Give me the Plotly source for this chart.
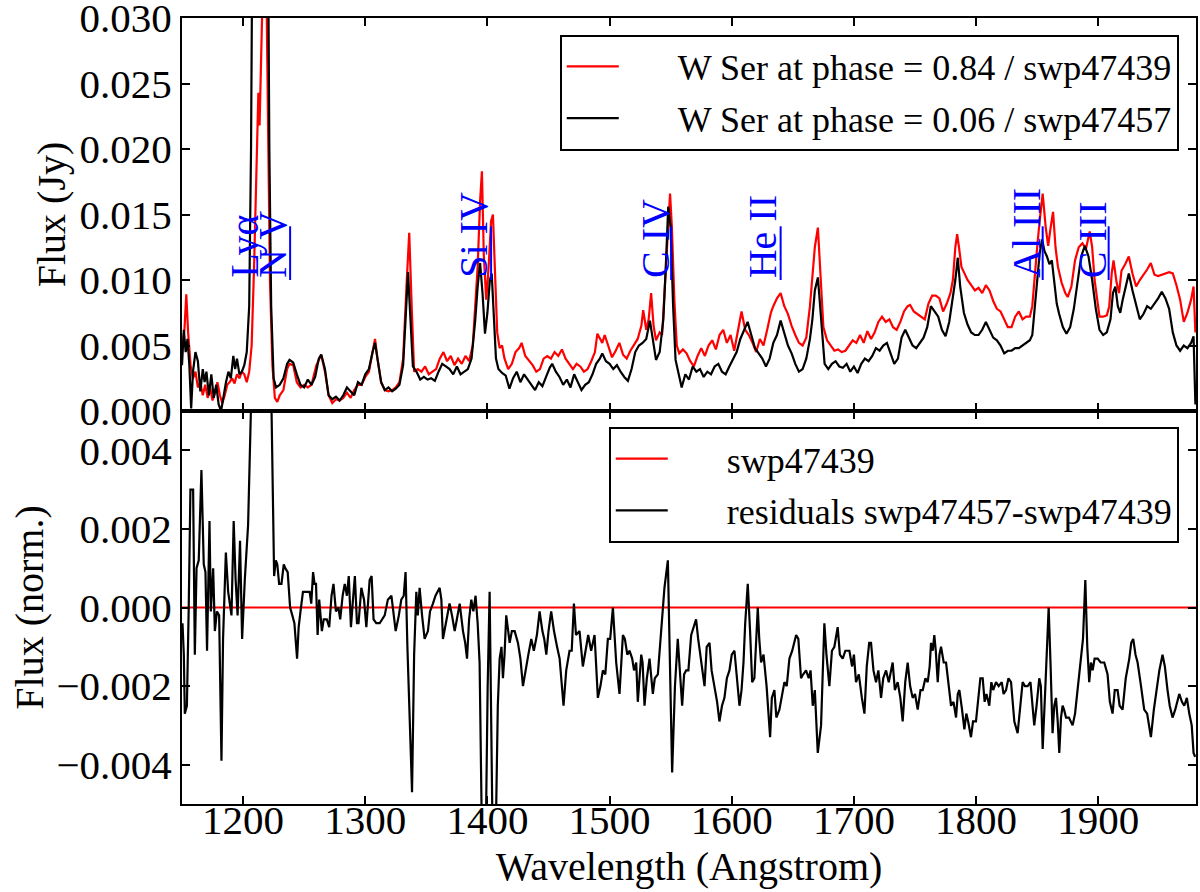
import plotly.graph_objects as go
from plotly.subplots import make_subplots

# ---------------- data ----------------
# W Ser at phase 0.84 / swp47439  (top panel, red)
wl_084 = [1150, 1152, 1153.5, 1155, 1157, 1159, 1161, 1163, 1165, 1167, 1169, 1171, 1173, 1175, 1177, 1179,
          1181, 1183, 1185, 1187, 1189, 1191, 1193, 1195, 1197, 1199, 1201, 1203, 1205, 1207, 1209, 1211,
          1212.5, 1213.5, 1215, 1217, 1219, 1220.5, 1222, 1224, 1226, 1228, 1230, 1233, 1236, 1238, 1241,
          1244, 1247, 1250, 1253, 1256, 1260, 1264, 1267, 1270, 1273, 1276, 1279, 1282, 1285, 1288, 1291,
          1294, 1297, 1300, 1303, 1306, 1308, 1310, 1313, 1316, 1319, 1322, 1325, 1328, 1331, 1334, 1336,
          1338, 1340, 1343, 1346, 1349, 1352, 1355, 1358, 1361, 1364, 1367, 1370, 1373, 1376, 1379, 1382,
          1385, 1388, 1390, 1392, 1394, 1395.5, 1397, 1399, 1401, 1403, 1404.5, 1406, 1408, 1410, 1412,
          1414, 1417, 1420, 1423, 1426, 1428, 1431, 1434, 1437, 1440, 1443, 1446, 1449, 1452, 1455, 1458,
          1461, 1464, 1467, 1470, 1473, 1476, 1479, 1482, 1485, 1488, 1490, 1492, 1494, 1496, 1499, 1502,
          1505, 1508, 1511, 1514, 1517, 1520, 1523, 1526, 1527.5, 1530, 1532, 1534, 1536, 1538, 1541, 1543,
          1545, 1547, 1549.5, 1551, 1553, 1555, 1557, 1560, 1563, 1566, 1569, 1572, 1575, 1578, 1581, 1584,
          1587, 1590, 1593, 1596, 1599, 1602, 1605, 1608, 1611, 1614, 1617, 1620, 1623, 1626, 1629, 1632,
          1634, 1637, 1640, 1643, 1646, 1649, 1652, 1655, 1658, 1661, 1664, 1666, 1668, 1670.5, 1673, 1675,
          1678, 1681, 1684, 1687, 1690, 1693, 1696, 1699, 1702, 1705, 1708, 1711, 1714, 1717, 1720, 1723,
          1726, 1729, 1732, 1735, 1738, 1741, 1744, 1746, 1749, 1752, 1755, 1758, 1761, 1764, 1767, 1770,
          1773, 1776, 1779, 1781, 1783, 1784.5, 1786, 1788, 1790, 1793, 1796, 1799, 1802, 1805, 1808, 1811,
          1814, 1817, 1820, 1823, 1826, 1829, 1832, 1835, 1838, 1841, 1844, 1846, 1848, 1850, 1852, 1854.5,
          1857, 1859, 1861, 1863, 1865, 1867, 1870, 1873, 1875, 1878, 1881, 1884, 1887, 1890, 1893, 1895,
          1897, 1899, 1901, 1904, 1907, 1909, 1911, 1912.5, 1915, 1917, 1919, 1922, 1925, 1928, 1931, 1934,
          1937, 1940, 1943, 1946, 1949, 1952, 1955, 1958, 1961, 1964, 1967, 1970, 1973, 1976, 1978, 1979.5]
flux_084 = [0.0048, 0.0062, 0.0089, 0.0060, 0.0035, 0.0025, 0.0030, 0.0018, 0.0022, 0.0012, 0.0020, 0.0010,
            0.0018, 0.0008, 0.0014, 0.0022, 0.0012, 0.0006, 0.0012, 0.0020, 0.0022, 0.0025, 0.0021, 0.0028,
            0.0025, 0.0030, 0.0028, 0.0022, 0.0030, 0.0050, 0.0110, 0.0200, 0.0243, 0.0218, 0.0330, 0.0360,
            0.0330, 0.0200, 0.0100, 0.0035, 0.0010, 0.0007, 0.0012, 0.0016, 0.0032, 0.0036, 0.0035, 0.0022,
            0.0018, 0.0020, 0.0018, 0.0020, 0.0035, 0.0043, 0.0030, 0.0012, 0.0006, 0.0009, 0.0008, 0.0010,
            0.0014, 0.0010, 0.0016, 0.0020, 0.0020, 0.0026, 0.0030, 0.0045, 0.0055, 0.0040, 0.0022, 0.0016,
            0.0015, 0.0016, 0.0018, 0.0022, 0.0040, 0.0100, 0.0136, 0.0080, 0.0030, 0.0032, 0.0030, 0.0034,
            0.0028, 0.0030, 0.0032, 0.0040, 0.0045, 0.0038, 0.0042, 0.0035, 0.0040, 0.0036, 0.0042, 0.0038,
            0.0050, 0.0080, 0.0110, 0.0160, 0.0183, 0.0120, 0.0085, 0.0110, 0.0145, 0.0150, 0.0110, 0.0060,
            0.0048, 0.0050, 0.0040, 0.0032, 0.0036, 0.0045, 0.0048, 0.0052, 0.0042, 0.0038, 0.0035, 0.0030,
            0.0032, 0.0040, 0.0042, 0.0040, 0.0045, 0.0042, 0.0047, 0.0040, 0.0036, 0.0032, 0.0036, 0.0034,
            0.0030, 0.0032, 0.0038, 0.0045, 0.0059, 0.0056, 0.0052, 0.0058, 0.0050, 0.0041, 0.0046, 0.0052,
            0.0043, 0.0040, 0.0046, 0.0050, 0.0055, 0.0065, 0.0077, 0.0062, 0.0070, 0.0090, 0.0065, 0.0054,
            0.0060, 0.0058, 0.0090, 0.0130, 0.0166, 0.0140, 0.0085, 0.0050, 0.0044, 0.0047, 0.0044, 0.0038,
            0.0034, 0.0042, 0.0048, 0.0042, 0.0050, 0.0054, 0.0047, 0.0058, 0.0062, 0.0052, 0.0058, 0.0046,
            0.0062, 0.0076, 0.0062, 0.0058, 0.0052, 0.0045, 0.0055, 0.0050, 0.0062, 0.0075, 0.0080, 0.0086,
            0.0090, 0.0080, 0.0074, 0.0065, 0.0058, 0.0052, 0.0050, 0.0056, 0.0080, 0.0100, 0.0125, 0.0140,
            0.0095, 0.0064, 0.0054, 0.0050, 0.0046, 0.0047, 0.0045, 0.0046, 0.0050, 0.0054, 0.0052, 0.0058,
            0.0052, 0.0061, 0.0055, 0.0060, 0.0068, 0.0072, 0.0068, 0.0070, 0.0064, 0.0062, 0.0068, 0.0076,
            0.0080, 0.0081, 0.0076, 0.0074, 0.0072, 0.0070, 0.0082, 0.0088, 0.0088, 0.0086, 0.0076, 0.0082,
            0.0090, 0.0100, 0.0125, 0.0135, 0.0125, 0.0110, 0.0106, 0.0100, 0.0096, 0.0092, 0.0094, 0.0090,
            0.0096, 0.0092, 0.0084, 0.0078, 0.0076, 0.0070, 0.0064, 0.0064, 0.0072, 0.0076, 0.0070, 0.0072,
            0.0072, 0.0080, 0.0105, 0.0125, 0.0145, 0.0166, 0.0140, 0.0126, 0.0140, 0.0152, 0.0125, 0.0110,
            0.0098, 0.0090, 0.0087, 0.0095, 0.0115, 0.0125, 0.0128, 0.0124, 0.0137, 0.0125, 0.0100, 0.0085,
            0.0072, 0.0072, 0.0073, 0.0080, 0.0105, 0.0115, 0.0098, 0.0090, 0.0107, 0.0112, 0.0118, 0.0105,
            0.0095, 0.0100, 0.0104, 0.0108, 0.0113, 0.0104, 0.0103, 0.0104, 0.0105, 0.0106, 0.0105, 0.0096,
            0.0085, 0.0068, 0.0075, 0.0085, 0.0095, 0.0060]

# W Ser at phase 0.06 / swp47457  (top panel, black)
wl_006 = [1150, 1151.5, 1153, 1154.5, 1156, 1157.5, 1159, 1161, 1163, 1165, 1167, 1168.5, 1170, 1172, 1174,
          1176, 1178, 1180, 1182, 1184, 1186, 1188, 1190, 1192, 1193.5, 1195, 1197, 1199, 1201, 1203, 1205,
          1206.5, 1207.5, 1220.5, 1221.5, 1223, 1225, 1227, 1230, 1233, 1236, 1238, 1241, 1244, 1247, 1250,
          1253, 1256, 1259, 1262, 1264, 1267, 1270, 1273, 1276, 1279, 1282, 1285, 1288, 1291, 1294, 1297,
          1300, 1303, 1306, 1308, 1310, 1313, 1316, 1319, 1322, 1325, 1328, 1331, 1333, 1335, 1337, 1339,
          1342, 1345, 1348, 1351, 1354, 1357, 1360, 1363, 1366, 1369, 1372, 1375, 1378, 1381, 1384, 1387,
          1390, 1392, 1394, 1396, 1398, 1400, 1402, 1403.5, 1405, 1407, 1409, 1412, 1415, 1418, 1421, 1424,
          1427, 1430, 1433, 1436, 1439, 1442, 1445, 1448, 1451, 1453, 1456, 1459, 1462, 1465, 1468, 1471,
          1474, 1477, 1480, 1483, 1486, 1489, 1492, 1494, 1497, 1500, 1503, 1506, 1509, 1512, 1515, 1518,
          1521, 1524, 1527, 1530, 1533, 1535, 1538, 1541, 1544, 1546, 1548, 1550, 1552, 1554, 1557, 1559,
          1562, 1565, 1568, 1571, 1574, 1577, 1580, 1583, 1586, 1589, 1592, 1595, 1598, 1601, 1604, 1607,
          1610, 1613, 1616, 1619, 1622, 1625, 1628, 1631, 1634, 1637, 1640, 1643, 1646, 1649, 1652, 1655,
          1658, 1661, 1664, 1666, 1668, 1670.5, 1673, 1676, 1679, 1682, 1685, 1688, 1691, 1694, 1697, 1700,
          1703, 1706, 1709, 1712, 1715, 1718, 1721, 1724, 1727, 1730, 1733, 1736, 1739, 1742, 1745, 1748,
          1751, 1754, 1757, 1760, 1763, 1766, 1769, 1772, 1775, 1778, 1781, 1783, 1785, 1787, 1790, 1793,
          1796, 1799, 1802, 1805, 1808, 1811, 1814, 1817, 1820, 1823, 1826, 1829, 1832, 1835, 1838, 1841,
          1844, 1846, 1848, 1850, 1852, 1854, 1856, 1858, 1860, 1862, 1864, 1866, 1868, 1871, 1874, 1877,
          1880, 1883, 1886, 1889, 1892, 1895, 1898, 1901, 1904, 1907, 1910, 1912, 1914, 1916, 1918, 1920,
          1923, 1925, 1928, 1931, 1934, 1937, 1940, 1943, 1946, 1949, 1952, 1955, 1958, 1961, 1964, 1967,
          1970, 1973, 1976, 1978, 1979.5]
flux_006 = [0.0035, 0.0062, 0.0045, 0.0055, 0.0035, 0.0002, 0.0030, 0.0045, 0.0038, 0.0015, 0.0032, 0.0022,
            0.0030, 0.0012, 0.0028, 0.0010, 0.0020, 0.0005, 0.0000, 0.0012, 0.0022, 0.0030, 0.0025, 0.0042,
            0.0032, 0.0040, 0.0028, 0.0030, 0.0035, 0.0045, 0.0080, 0.0200, 0.0350, 0.0350, 0.0200, 0.0080,
            0.0025, 0.0018, 0.0020, 0.0025, 0.0036, 0.0039, 0.0037, 0.0028, 0.0020, 0.0018, 0.0024, 0.0020,
            0.0026, 0.0040, 0.0043, 0.0032, 0.0012, 0.0009, 0.0011, 0.0008, 0.0012, 0.0018, 0.0015, 0.0012,
            0.0022, 0.0020, 0.0028, 0.0032, 0.0045, 0.0052, 0.0040, 0.0022, 0.0016, 0.0018, 0.0015, 0.0017,
            0.0020, 0.0035, 0.0070, 0.0106, 0.0070, 0.0034, 0.0030, 0.0024, 0.0026, 0.0024, 0.0025, 0.0023,
            0.0030, 0.0036, 0.0034, 0.0032, 0.0028, 0.0034, 0.0028, 0.0030, 0.0032, 0.0040, 0.0069, 0.0095,
            0.0113, 0.0090, 0.0059, 0.0075, 0.0100, 0.0105, 0.0080, 0.0040, 0.0032, 0.0029, 0.0027, 0.0017,
            0.0025, 0.0030, 0.0022, 0.0028, 0.0024, 0.0020, 0.0016, 0.0022, 0.0019, 0.0026, 0.0033, 0.0036,
            0.0030, 0.0026, 0.0020, 0.0024, 0.0018, 0.0028, 0.0022, 0.0016, 0.0020, 0.0022, 0.0028, 0.0036,
            0.0040, 0.0044, 0.0038, 0.0036, 0.0032, 0.0035, 0.0030, 0.0026, 0.0023, 0.0032, 0.0045, 0.0050,
            0.0052, 0.0055, 0.0069, 0.0058, 0.0039, 0.0045, 0.0070, 0.0110, 0.0156, 0.0140, 0.0080, 0.0039,
            0.0025, 0.0018, 0.0028, 0.0024, 0.0034, 0.0030, 0.0032, 0.0026, 0.0030, 0.0028, 0.0034, 0.0036,
            0.0030, 0.0028, 0.0034, 0.0040, 0.0045, 0.0055, 0.0062, 0.0068, 0.0058, 0.0048, 0.0044, 0.0040,
            0.0034, 0.0040, 0.0052, 0.0058, 0.0069, 0.0060, 0.0050, 0.0044, 0.0036, 0.0030, 0.0032, 0.0040,
            0.0055, 0.0070, 0.0092, 0.0102, 0.0075, 0.0036, 0.0032, 0.0036, 0.0038, 0.0034, 0.0033, 0.0036,
            0.0030, 0.0034, 0.0029, 0.0036, 0.0040, 0.0038, 0.0042, 0.0048, 0.0046, 0.0050, 0.0052, 0.0044,
            0.0036, 0.0040, 0.0056, 0.0062, 0.0056, 0.0050, 0.0048, 0.0052, 0.0056, 0.0064, 0.0080, 0.0076,
            0.0072, 0.0062, 0.0057, 0.0068, 0.0087, 0.0100, 0.0117, 0.0095, 0.0075, 0.0066, 0.0060, 0.0058,
            0.0058, 0.0062, 0.0068, 0.0062, 0.0056, 0.0054, 0.0050, 0.0044, 0.0046, 0.0046, 0.0048, 0.0048,
            0.0050, 0.0052, 0.0054, 0.0058, 0.0080, 0.0103, 0.0120, 0.0131, 0.0122, 0.0118, 0.0112, 0.0115,
            0.0100, 0.0082, 0.0074, 0.0064, 0.0059, 0.0064, 0.0078, 0.0100, 0.0118, 0.0126, 0.0118, 0.0100,
            0.0078, 0.0062, 0.0058, 0.0060, 0.0070, 0.0090, 0.0095, 0.0080, 0.0075, 0.0085, 0.0098, 0.0105,
            0.0092, 0.0080, 0.0070, 0.0074, 0.0080, 0.0078, 0.0082, 0.0086, 0.0091, 0.0086, 0.0078, 0.0060,
            0.0050, 0.0046, 0.0050, 0.0048, 0.0052, 0.0057, 0.0005]

# residuals swp47457-swp47439 (bottom panel, black)
wl_res = [1150.4, 1151.5, 1152.3, 1154.0, 1155.5, 1156.9, 1159.1, 1160.5, 1161.9, 1163.7, 1165.9, 1167.8,
          1169.2, 1170.5, 1172.5, 1173.6, 1175.5, 1176.9, 1178.6, 1180.4, 1182.3, 1183.6, 1185.9, 1187.8,
          1190.5, 1192.3, 1193.9, 1195.5, 1197.5, 1199.2, 1201.4, 1204.1, 1206.0, 1208.0, 1215.0, 1222.0,
          1223.2, 1225.4, 1226.8, 1228.0, 1229.5, 1231.4, 1233.3, 1234.5, 1236.5, 1238.5, 1240.3, 1242.0,
          1244.2, 1245.5, 1247.0, 1249.0, 1252.0, 1254.5, 1255.8, 1257.3, 1258.5, 1259.7, 1261.0, 1262.3,
          1264.5, 1266.0, 1268.5, 1270.5, 1272.4, 1274.0, 1276.0, 1278.0, 1279.5, 1281.5, 1283.2, 1285.0,
          1286.5, 1288.3, 1289.7, 1291.5, 1293.2, 1294.5, 1296.8, 1299.0, 1300.9, 1303.6, 1305.2, 1306.8,
          1309.0, 1311.8, 1315.9, 1318.5, 1321.4, 1324.9, 1327.5, 1329.5, 1331.5, 1333.0, 1334.5, 1338.3,
          1340.0, 1341.8, 1343.0, 1344.5, 1346.5, 1348.6, 1351.3, 1353.0, 1355.4, 1357.5, 1360.9, 1362.3,
          1363.6, 1366.3, 1369.0, 1371.0, 1373.2, 1375.0, 1377.3, 1380.0, 1381.8, 1383.3, 1385.0, 1386.8,
          1388.5, 1390.3, 1392.0, 1393.6, 1395.8, 1398.5, 1400.2, 1401.8, 1403.0, 1404.5, 1406.7, 1408.5,
          1410.0, 1411.5, 1412.7, 1414.0, 1415.4, 1418.2, 1420.0, 1422.3, 1425.0, 1427.0, 1429.1, 1431.0,
          1433.5, 1435.9, 1438.0, 1440.5, 1442.7, 1445.0, 1446.5, 1448.2, 1450.0, 1452.2, 1454.5, 1457.0,
          1459.1, 1462.3, 1464.5, 1467.2, 1469.0, 1470.8, 1472.5, 1475.4, 1478.1, 1480.9, 1482.5, 1484.9,
          1487.7, 1490.4, 1492.5, 1494.5, 1496.5, 1498.6, 1500.5, 1502.7, 1505.4, 1508.1, 1510.9, 1512.5,
          1514.5, 1516.3, 1518.5, 1520.0, 1521.8, 1523.1, 1525.9, 1527.0, 1528.6, 1530.5, 1532.7, 1535.4,
          1537.0, 1539.5, 1542.2, 1544.9, 1547.7, 1551.2, 1553.5, 1555.8, 1559.4, 1561.0, 1562.7, 1564.5,
          1566.8, 1568.5, 1570.8, 1572.5, 1574.9, 1577.7, 1579.5, 1581.8, 1583.5, 1585.8, 1588.0, 1589.9,
          1592.0, 1594.0, 1596.0, 1598.1, 1600.0, 1602.2, 1604.5, 1606.3, 1608.0, 1609.6, 1611.0, 1613.1,
          1615.0, 1616.7, 1618.5, 1619.5, 1621.3, 1622.5, 1624.0, 1626.0, 1628.5, 1631.4, 1632.8, 1634.9,
          1636.5, 1639.0, 1641.0, 1643.1, 1645.0, 1647.2, 1649.5, 1652.7, 1654.5, 1656.7, 1658.5, 1660.8,
          1663.0, 1664.5, 1666.3, 1668.0, 1670.4, 1673.1, 1675.8, 1677.5, 1679.9, 1682.0, 1684.0, 1686.7,
          1688.5, 1690.8, 1693.0, 1696.3, 1698.5, 1700.0, 1701.7, 1704.0, 1706.5, 1708.6, 1710.5, 1712.5,
          1714.0, 1716.0, 1718.1, 1720.0, 1722.2, 1724.0, 1726.3, 1728.5, 1731.7, 1733.5, 1735.8, 1738.0,
          1739.9, 1742.0, 1744.0, 1746.0, 1748.1, 1750.0, 1752.2, 1754.5, 1756.3, 1758.5, 1760.4, 1762.0,
          1763.1, 1764.5, 1765.8, 1767.0, 1768.6, 1770.0, 1771.3, 1773.5, 1775.4, 1777.5, 1779.5, 1781.5,
          1783.6, 1785.0, 1786.3, 1788.5, 1790.4, 1792.0, 1793.5, 1795.8, 1797.5, 1799.9, 1802.0, 1803.5,
          1805.4, 1807.0, 1808.5, 1810.8, 1812.5, 1814.0, 1816.3, 1818.5, 1821.0, 1822.5, 1824.5, 1826.5,
          1828.6, 1831.3, 1834.0, 1836.0, 1838.1, 1840.0, 1842.2, 1844.5, 1847.6, 1849.5, 1851.7, 1853.0,
          1854.5, 1857.0, 1859.4, 1861.0, 1862.6, 1864.0, 1865.4, 1866.8, 1868.1, 1869.5, 1870.8, 1872.0,
          1873.6, 1876.0, 1879.0, 1881.0, 1883.1, 1885.8, 1887.5, 1889.4, 1891.0, 1892.6, 1894.0, 1895.4,
          1897.0, 1899.5, 1902.0, 1904.9, 1906.5, 1907.6, 1909.5, 1911.7, 1913.5, 1915.8, 1917.5, 1919.9,
          1922.5, 1925.4, 1927.0, 1928.6, 1930.5, 1932.2, 1935.0, 1937.6, 1940.0, 1943.1, 1945.5, 1947.2,
          1950.0, 1952.6, 1954.5, 1956.7, 1958.5, 1960.8, 1963.0, 1966.3, 1968.5, 1970.4, 1972.5, 1974.5,
          1976.5, 1978.0, 1979.3]
flux_res = [-0.0004, -0.0012, -0.0027, -0.0025, 0.0000, 0.0030, 0.0030, -0.0012, 0.0010, 0.0012, 0.0035,
            0.0011, 0.0009, -0.0011, 0.0022, -0.0001, 0.0010, -0.0006, -0.0001, -0.0002, -0.0039, -0.0008,
            0.0014, 0.0004, -0.0002, 0.0022, 0.0007, -0.0002, 0.0017, -0.0008, 0.0007, 0.0021, 0.0045,
            0.0070, 0.0090, 0.0070, 0.0052, 0.0008, 0.0012, 0.0011, 0.0006, 0.0006, 0.0011, 0.0010, 0.0009,
            0.0000, -0.0002, -0.0004, -0.0013, -0.0005, -0.0001, 0.0004, 0.0004, 0.0004, 0.0001, 0.0009,
            0.0006, 0.0006, -0.0007, 0.0002, -0.0006, -0.0003, -0.0003, -0.0005, 0.0003, 0.0006, -0.0001,
            0.0000, -0.0003, 0.0003, 0.0006, 0.0003, 0.0008, -0.0005, 0.0001, 0.0008, -0.0004, -0.0004,
            0.0005, 0.0002, -0.0005, 0.0007, 0.0008, -0.0003, -0.0004, -0.0004, -0.0002, 0.0002, 0.0003,
            -0.0006, -0.0002, 0.0002, 0.0003, 0.0009, -0.0010, -0.0047, -0.0012, 0.0004, -0.0002, 0.0005,
            -0.0002, -0.0008, -0.0006, -0.0001, 0.0001, 0.0003, 0.0005, 0.0002, -0.0008, -0.0003, 0.0001,
            -0.0002, -0.0006, -0.0003, 0.0001, -0.0006, -0.0009, -0.0013, -0.0003, 0.0002, -0.0001, 0.0003,
            -0.0004, -0.0014, -0.0065, -0.0062, -0.0020, 0.0004, -0.0030, -0.0065, -0.0060, -0.0025,
            -0.0013, -0.0010, -0.0018, -0.0012, -0.0002, -0.0009, -0.0006, -0.0006, -0.0009, -0.0013,
            -0.0020, -0.0016, -0.0012, -0.0008, -0.0011, -0.0007, -0.0001, -0.0006, -0.0008, -0.0012,
            -0.0006, -0.0001, -0.0006, -0.0010, -0.0013, -0.0025, -0.0016, -0.0011, -0.0011, 0.0001,
            -0.0007, -0.0006, -0.0015, -0.0010, -0.0007, -0.0011, -0.0007, -0.0023, -0.0020, -0.0016,
            -0.0017, -0.0008, -0.0008, 0.0000, -0.0014, -0.0022, -0.0007, -0.0008, -0.0012, -0.0011,
            -0.0013, -0.0016, -0.0014, -0.0024, -0.0012, -0.0014, -0.0025, -0.0018, -0.0013, -0.0022,
            -0.0018, -0.0017, -0.0007, 0.0005, 0.0012, -0.0042, -0.0020, -0.0008, -0.0025, -0.0017,
            -0.0016, -0.0016, -0.0007, -0.0005, -0.0003, -0.0008, -0.0014, -0.0020, -0.0010, -0.0009,
            -0.0016, -0.0020, -0.0024, -0.0029, -0.0025, -0.0023, -0.0018, -0.0016, -0.0012, -0.0011,
            -0.0018, -0.0025, -0.0021, -0.0014, -0.0004, 0.0006, -0.0006, -0.0019, -0.0018, -0.0012,
            0.0000, -0.0008, -0.0014, -0.0012, -0.0020, -0.0033, -0.0023, -0.0021, -0.0028, -0.0026,
            -0.0022, -0.0019, -0.0020, -0.0013, -0.0011, -0.0007, -0.0008, -0.0018, -0.0017, -0.0016,
            -0.0018, -0.0016, -0.0025, -0.0021, -0.0037, -0.0030, -0.0004, -0.0012, -0.0020, -0.0011,
            -0.0010, -0.0005, -0.0012, -0.0013, -0.0011, -0.0011, -0.0015, -0.0012, -0.0019, -0.0017,
            -0.0023, -0.0027, -0.0015, -0.0009, -0.0009, -0.0016, -0.0019, -0.0016, -0.0023, -0.0018,
            -0.0016, -0.0019, -0.0014, -0.0021, -0.0019, -0.0023, -0.0029, -0.0019, -0.0014, -0.0020,
            -0.0023, -0.0022, -0.0026, -0.0021, -0.0021, -0.0018, -0.0019, -0.0015, -0.0009, -0.0011,
            -0.0007, -0.0011, -0.0019, -0.0012, -0.0010, -0.0014, -0.0014, -0.0019, -0.0025, -0.0024,
            -0.0028, -0.0022, -0.0021, -0.0026, -0.0031, -0.0027, -0.0029, -0.0033, -0.0029, -0.0029,
            -0.0023, -0.0018, -0.0018, -0.0024, -0.0022, -0.0025, -0.0019, -0.0021, -0.0019, -0.0020,
            -0.0019, -0.0022, -0.0021, -0.0018, -0.0019, -0.0029, -0.0032, -0.0025, -0.0019, -0.0020,
            -0.0020, -0.0019, -0.0030, -0.0025, -0.0018, -0.0020, -0.0036, -0.0018, 0.0000, -0.0015,
            -0.0032, -0.0025, -0.0023, -0.0029, -0.0037, -0.0028, -0.0025, -0.0026, -0.0028, -0.0028,
            -0.0030, -0.0027, -0.0021, -0.0014, -0.0008, 0.0007, -0.0010, -0.0019, -0.0014, -0.0016,
            -0.0013, -0.0013, -0.0014, -0.0014, -0.0016, -0.0017, -0.0024, -0.0027, -0.0021, -0.0021,
            -0.0025, -0.0026, -0.0018, -0.0013, -0.0009, -0.0008, -0.0012, -0.0014, -0.0020, -0.0026,
            -0.0027, -0.0033, -0.0026, -0.0022, -0.0016, -0.0012, -0.0015, -0.0021, -0.0025, -0.0028,
            -0.0026, -0.0022, -0.0024, -0.0025, -0.0023, -0.0027, -0.0030, -0.0037, -0.0038]

# swp47439 normalised reference (bottom panel, red)
wl_ref = [1150, 1980]
flux_ref = [0.0, 0.0]

# spectral line identifications
line_names = ["Ly&#945;", "N V", "Si IV", "C IV", "He II", "Al III", "C III"]
line_text_wl = [1201, 1224, 1388, 1537.6, 1625.4, 1840.8, 1895.4]
marker_wl = [1238.5, 1403, 1550.4, 1640, 1854.5, 1908.5]
marker_lo, marker_hi = 0.0100, 0.0141

x_ticks = [1200, 1300, 1400, 1500, 1600, 1700, 1800, 1900]
top_ticks = [0.000, 0.005, 0.010, 0.015, 0.020, 0.025, 0.030]
bot_ticks = [-0.004, -0.002, 0.000, 0.002, 0.004]

# ---------------- figure ----------------
FONT = "Liberation Serif"
NB = "\u00a0" * 6
LW = 2.2
fig = make_subplots(rows=2, cols=1, shared_xaxes=True, vertical_spacing=0)

fig.add_trace(go.Scatter(x=wl_084, y=flux_084, mode="lines", line=dict(color="#ff0000", width=LW),
                         name=NB + "W Ser at phase = 0.84 / swp47439", legend="legend", legendgroup="a"),
              row=1, col=1)
fig.add_trace(go.Scatter(x=wl_006, y=flux_006, mode="lines", line=dict(color="#000000", width=LW),
                         name=NB + "W Ser at phase = 0.06 / swp47457", legend="legend", legendgroup="b"),
              row=1, col=1)

seg_x, seg_y = [], []
for w in marker_wl:
    seg_x += [w, w, None]
    seg_y += [marker_lo, marker_hi, None]
fig.add_trace(go.Scatter(x=seg_x, y=seg_y, mode="lines", line=dict(color="#0000ff", width=2),
                         showlegend=False, hoverinfo="skip"), row=1, col=1)

fig.add_trace(go.Scatter(x=wl_ref, y=flux_ref, mode="lines", line=dict(color="#ff0000", width=LW),
                         name=NB + "swp47439", legend="legend2", legendgroup="c"), row=2, col=1)
fig.add_trace(go.Scatter(x=wl_res, y=flux_res, mode="lines", line=dict(color="#000000", width=LW),
                         name=NB + "residuals swp47457-swp47439", legend="legend2", legendgroup="d"),
              row=2, col=1)

for name, w in zip(line_names, line_text_wl):
    fig.add_annotation(x=w, y=marker_lo, xref="x", yref="y", text=name, textangle=-90,
                       showarrow=False, xanchor="center", yanchor="bottom",
                       font=dict(family=FONT, size=40, color="#0000ff"))

axis_common = dict(showline=True, linecolor="black", linewidth=2, mirror="ticks", ticks="inside",
                   ticklen=8, tickwidth=1.5, tickcolor="black", showgrid=False, zeroline=False,
                   tickfont=dict(family=FONT, size=41, color="black"), automargin=False,
                   ticklabeloverflow="allow")

fig.update_xaxes(range=[1150, 1980], tickvals=x_ticks, **axis_common)
fig.update_xaxes(showticklabels=False, row=1, col=1)
fig.update_xaxes(ticklabelstandoff=-21,
                 title=dict(text="Wavelength (Angstrom)", font=dict(family=FONT, size=40, color="black"),
                            standoff=10), row=2, col=1)
fig.update_yaxes(range=[0, 0.030], tickvals=top_ticks, tickformat=".3f",
                 title=dict(text="Flux (Jy)", font=dict(family=FONT, size=40, color="black"), standoff=2),
                 row=1, col=1, **axis_common)
fig.update_yaxes(range=[-0.005, 0.005], tickvals=bot_ticks, tickformat=".3f",
                 title=dict(text="Flux (norm.)", font=dict(family=FONT, size=40, color="black"), standoff=0),
                 row=2, col=1, **axis_common)
fig.layout.yaxis.domain = [0.5, 1.0]
fig.layout.yaxis2.domain = [0.0, 0.5]

legend_common = dict(xanchor="right", yanchor="top", x=0.983, bgcolor="white", bordercolor="black",
                     borderwidth=2, font=dict(family=FONT, size=36, color="black"),
                     tracegroupgap=2, itemwidth=52)
fig.update_layout(
    width=1200, height=892,
    margin=dict(l=182, r=4, t=18, b=88),
    paper_bgcolor="white", plot_bgcolor="white",
    showlegend=True,
    legend=dict(y=0.979, **legend_common),
    legend2=dict(y=0.480, **legend_common),
)

fig.write_html("out.html", config={"displayModeBar": False},
               post_script="document.body.style.margin='0';document.body.style.padding='0';"
                           "document.body.style.overflow='hidden';")
